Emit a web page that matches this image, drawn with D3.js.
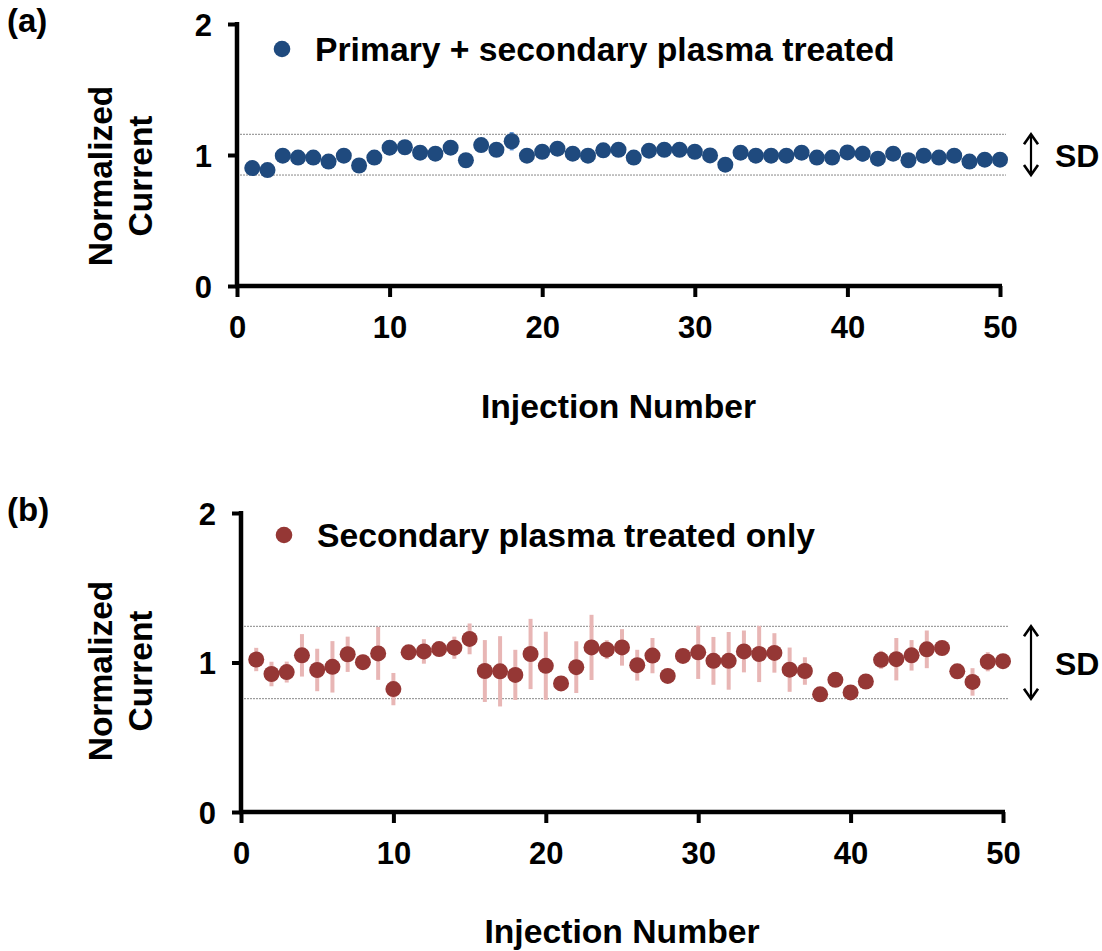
<!DOCTYPE html>
<html>
<head>
<meta charset="utf-8">
<script src="https://cdn.jsdelivr.net/npm/d3@7"></script>
<style>
  body { margin: 0; background: #fff; }
  text { font-family: "Liberation Sans", Arial, sans-serif; font-weight: bold; fill: #000; }
</style>
</head>
<body>
<svg id="chart" width="1102" height="951"></svg>
<script>
// injection numbers 1..50
const injections = d3.range(1, 51);

// (a) primary + secondary plasma treated
const meanA = [0.90, 0.885, 0.995, 0.98, 0.98, 0.95, 0.995, 0.92, 0.98, 1.056,
               1.059, 1.018, 1.01, 1.056, 0.96, 1.076, 1.04, 1.105, 0.995, 1.025,
               1.048, 1.01, 0.995, 1.036, 1.04, 0.98, 1.033, 1.04, 1.04, 1.025,
               0.997, 0.926, 1.018, 0.995, 0.995, 0.995, 1.018, 0.98, 0.98, 1.02,
               1.01, 0.972, 1.01, 0.96, 0.995, 0.98, 0.995, 0.95, 0.964, 0.964];
const errA  = [0.02, 0.02, 0.02, 0.02, 0.02, 0.02, 0.02, 0.02, 0.02, 0.02,
               0.02, 0.02, 0.02, 0.02, 0.02, 0.02, 0.02, 0.07, 0.02, 0.02,
               0.02, 0.02, 0.02, 0.02, 0.02, 0.02, 0.02, 0.02, 0.02, 0.02,
               0.02, 0.02, 0.02, 0.02, 0.02, 0.035, 0.02, 0.02, 0.035, 0.05,
               0.06, 0.045, 0.04, 0.02, 0.045, 0.05, 0.02, 0.02, 0.02, 0.02];
const sdA = [0.847, 1.158];

// (b) secondary plasma treated only
const meanB = [1.02, 0.923, 0.936, 1.048, 0.95, 0.971, 1.055, 1.002, 1.061, 0.822,
               1.068, 1.074, 1.09, 1.099, 1.158, 0.943, 0.941, 0.917, 1.057, 0.978,
               0.86, 0.969, 1.101, 1.086, 1.101, 0.982, 1.046, 0.91, 1.044, 1.068,
               1.011, 1.011, 1.074, 1.057, 1.064, 0.952, 0.943, 0.787, 0.884, 0.80,
               0.873, 1.018, 1.022, 1.048, 1.088, 1.097, 0.941, 0.87, 1.005, 1.009];
const errB  = [0.078, 0.082, 0.07, 0.142, 0.142, 0.172, 0.118, 0.05, 0.177, 0.108,
               0.03, 0.082, 0.04, 0.074, 0.103, 0.207, 0.235, 0.168, 0.235, 0.228,
               0.0, 0.173, 0.218, 0.063, 0.122, 0.103, 0.118, 0.03, 0.03, 0.178,
               0.16, 0.193, 0.14, 0.188, 0.132, 0.148, 0.092, 0.0, 0.0, 0.0,
               0.0, 0.06, 0.142, 0.102, 0.126, 0.0, 0.0, 0.092, 0.064, 0.0];
const sdB = [0.758, 1.242];

const xTicks = [0, 10, 20, 30, 40, 50];
const yTicks = [0, 1, 2];

const svg = d3.select("#chart");

function drawPanel(opt) {
  const x = d3.scaleLinear().domain([0, 50]).range([opt.x0, opt.x1]);
  const y = d3.scaleLinear().domain([0, 2]).range([opt.y0, opt.y1]);
  const g = svg.append("g");

  // SD dotted lines
  g.selectAll(".sd").data(opt.sd).enter().append("line")
    .attr("x1", opt.x0).attr("x2", opt.x1 + 6)
    .attr("y1", d => y(d)).attr("y2", d => y(d))
    .attr("stroke", "#888").attr("stroke-width", 1)
    .attr("stroke-dasharray", "2,1");

  // axes
  const yAxis = g.append("g").attr("transform", `translate(${opt.x0},0)`)
    .call(d3.axisLeft(y).tickValues(yTicks).tickSize(11).tickPadding(14).tickFormat(d3.format("d")));
  const xAxis = g.append("g").attr("transform", `translate(0,${opt.y0})`)
    .call(d3.axisBottom(x).tickValues(xTicks).tickSize(11).tickPadding(19).tickFormat(d3.format("d")));
  [yAxis, xAxis].forEach(a => {
    a.select(".domain").attr("stroke", "#000").attr("stroke-width", 4.5)
      .attr("d", a === yAxis
        ? `M0,${opt.y0 + 2}V${opt.y1 - 2}`
        : `M${opt.x0 - 2},0H${opt.x1 + 2}`);
    a.selectAll(".tick line").attr("stroke", "#000").attr("stroke-width", 4);
    a.selectAll(".tick text").style("font-size", "31px").attr("fill", "#000");
  });
  yAxis.selectAll(".tick text").attr("dy", "0.36em");
  yAxis.selectAll(".tick line").attr("x2", -10).attr("transform", "translate(1,0)");

  // error bars
  g.selectAll(".err").data(injections).enter().append("line")
    .attr("x1", d => x(d)).attr("x2", d => x(d))
    .attr("y1", (d, i) => y(opt.mean[i] - opt.err[i]))
    .attr("y2", (d, i) => y(opt.mean[i] + opt.err[i]))
    .attr("stroke", opt.errColor).attr("stroke-width", 4);

  // points
  g.selectAll(".pt").data(injections).enter().append("circle")
    .attr("cx", d => x(d))
    .attr("cy", (d, i) => y(opt.mean[i]))
    .attr("r", 8)
    .attr("fill", opt.color);

  // legend
  g.append("circle").attr("cx", opt.legX).attr("cy", opt.legY).attr("r", 8.3).attr("fill", opt.color);
  g.append("text").attr("x", opt.legX + 33).attr("y", opt.legY + 12)
    .style("font-size", "33.7px").text(opt.label);

  // panel label
  g.append("text").attr("x", 7).attr("y", opt.y1 + 8).style("font-size", "33px").text(opt.tag);

  // y title
  const ty = opt.titleY;
  g.append("text").attr("transform", `translate(112,${ty}) rotate(-90)`)
    .attr("text-anchor", "middle").style("font-size", "33.5px").text("Normalized");
  g.append("text").attr("transform", `translate(152,${ty}) rotate(-90)`)
    .attr("text-anchor", "middle").style("font-size", "33.5px").text("Current");

  // x title
  g.append("text").attr("x", (opt.x0 + opt.x1) / 2).attr("y", opt.xTitleY)
    .attr("text-anchor", "middle").style("font-size", "33.7px").text("Injection Number");

  // SD arrow
  const ax = 1031, ya = y(opt.sd[1]), yb = y(opt.sd[0]);
  g.append("line").attr("x1", ax).attr("x2", ax).attr("y1", ya + 2).attr("y2", yb - 2)
    .attr("stroke", "#000").attr("stroke-width", 2.2);
  g.append("path").attr("d", `M${ax - 7},${ya + 10}L${ax},${ya}L${ax + 7},${ya + 10}`)
    .attr("fill", "none").attr("stroke", "#000").attr("stroke-width", 2.6);
  g.append("path").attr("d", `M${ax - 7},${yb - 10}L${ax},${yb}L${ax + 7},${yb - 10}`)
    .attr("fill", "none").attr("stroke", "#000").attr("stroke-width", 2.6);
  g.append("text").attr("x", 1055).attr("y", y(1) + 12).style("font-size", "32px").text("SD");
}

drawPanel({
  x0: 237, x1: 1000, y0: 286, y1: 24,
  mean: meanA, err: errA, sd: sdA,
  color: "#1f4a7e", errColor: "#5a8fd3",
  label: "Primary + secondary plasma treated", tag: "(a)",
  legX: 282, legY: 49, titleY: 176, xTitleY: 418
});

drawPanel({
  x0: 241, x1: 1003, y0: 812, y1: 513,
  mean: meanB, err: errB, sd: sdB,
  color: "#953735", errColor: "#e8b6b5",
  label: "Secondary plasma treated only", tag: "(b)",
  legX: 284, legY: 535, titleY: 671, xTitleY: 943
});
</script>
</body>
</html>
